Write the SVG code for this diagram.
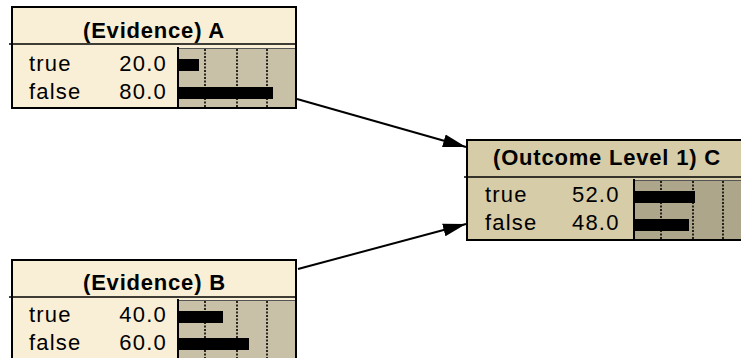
<svg xmlns="http://www.w3.org/2000/svg" width="741" height="358" viewBox="0 0 741 358">
<defs>
<style>
.ev{fill:#f9efd6}
.oc{fill:#d6cca7}
.bgev{fill:#c9c0a8}
.bgoc{fill:#aea68b}
.frame{fill:none;stroke:#000;stroke-width:2}
.div{stroke:#000;stroke-width:1.5}
.edge{stroke:#000;stroke-width:2}
.tick{stroke:#000;stroke-width:1.6;stroke-dasharray:2 1.5}
.bar{fill:#000}
.title{font-family:"Liberation Sans",Arial,sans-serif;font-weight:bold;font-size:22px;letter-spacing:0.8px;fill:#000}
.lbl{font-family:"Liberation Sans",Arial,sans-serif;font-size:22px;letter-spacing:1.2px;fill:#000}
.conn{stroke:#000;stroke-width:2;fill:none}
</style>
<marker id="arr" markerUnits="userSpaceOnUse" markerWidth="24" markerHeight="14" refX="23" refY="7" orient="auto">
<path d="M0,0.5 L23,7 L0,13.5 z" fill="#000"/>
</marker>
</defs>
<rect width="741" height="358" fill="#fff"/>

<g id="connectors">
<line class="conn" x1="297" y1="99" x2="466" y2="147" marker-end="url(#arr)"/>
<line class="conn" x1="298" y1="269" x2="466" y2="224" marker-end="url(#arr)"/>
</g>

<g id="nodeA">
<rect class="ev" x="12" y="7" width="284" height="101"/>
<rect class="bgev" x="177" y="48" width="119" height="60"/>
<line x1="177" y1="48.5" x2="296" y2="48.5" stroke="#555" stroke-width="1"/>
<line class="edge" x1="178" y1="47" x2="178" y2="108"/>
<line class="tick" x1="205" y1="49" x2="205" y2="107"/>
<line class="tick" x1="237" y1="49" x2="237" y2="107"/>
<line class="tick" x1="267" y1="49" x2="267" y2="107"/>
<rect class="bar" x="178" y="59" width="21" height="12"/>
<rect class="bar" x="178" y="87" width="95" height="12"/>
<line class="div" x1="9" y1="44" x2="296" y2="44"/>
<rect class="frame" x="12" y="7" width="284" height="101"/>
<text class="title" x="83" y="37.8">(Evidence) A</text>
<text class="lbl" x="29" y="70.7">true</text>
<text class="lbl" x="119.3" y="70.7">20.0</text>
<text class="lbl" x="29" y="99.3">false</text>
<text class="lbl" x="119.3" y="99.3">80.0</text>
</g>

<g id="nodeB">
<rect class="ev" x="12" y="260" width="284" height="110"/>
<rect class="bgev" x="177" y="300" width="119" height="70"/>
<line x1="177" y1="300.5" x2="296" y2="300.5" stroke="#555" stroke-width="1"/>
<line class="edge" x1="178" y1="299" x2="178" y2="370"/>
<line class="tick" x1="205" y1="301" x2="205" y2="370"/>
<line class="tick" x1="237" y1="301" x2="237" y2="370"/>
<line class="tick" x1="267" y1="301" x2="267" y2="370"/>
<rect class="bar" x="178" y="311" width="45" height="12"/>
<rect class="bar" x="178" y="338" width="71" height="12"/>
<line class="div" x1="9" y1="297" x2="296" y2="297"/>
<rect class="frame" x="12" y="260" width="284" height="110"/>
<text class="title" x="83" y="289.8">(Evidence) B</text>
<text class="lbl" x="29" y="322">true</text>
<text class="lbl" x="119.3" y="322">40.0</text>
<text class="lbl" x="29" y="349.5">false</text>
<text class="lbl" x="119.3" y="349.5">60.0</text>
</g>

<g id="nodeC">
<rect class="oc" x="467" y="140" width="280" height="100"/>
<rect class="bgoc" x="633" y="180" width="114" height="60"/>
<line x1="633" y1="180.5" x2="747" y2="180.5" stroke="#555" stroke-width="1"/>
<line class="edge" x1="634" y1="179" x2="634" y2="240"/>
<line class="tick" x1="661" y1="181" x2="661" y2="239"/>
<line class="tick" x1="693" y1="181" x2="693" y2="239"/>
<line class="tick" x1="723" y1="181" x2="723" y2="239"/>
<rect class="bar" x="634" y="191" width="61" height="12"/>
<rect class="bar" x="634" y="219" width="55" height="12"/>
<line class="div" x1="464" y1="177" x2="747" y2="177"/>
<rect class="frame" x="467" y="140" width="280" height="100"/>
<text class="title" x="493" y="165.3">(Outcome Level 1) C</text>
<text class="lbl" x="485" y="202">true</text>
<text class="lbl" x="572" y="202">52.0</text>
<text class="lbl" x="485" y="229.5">false</text>
<text class="lbl" x="572" y="229.5">48.0</text>
</g>
</svg>
